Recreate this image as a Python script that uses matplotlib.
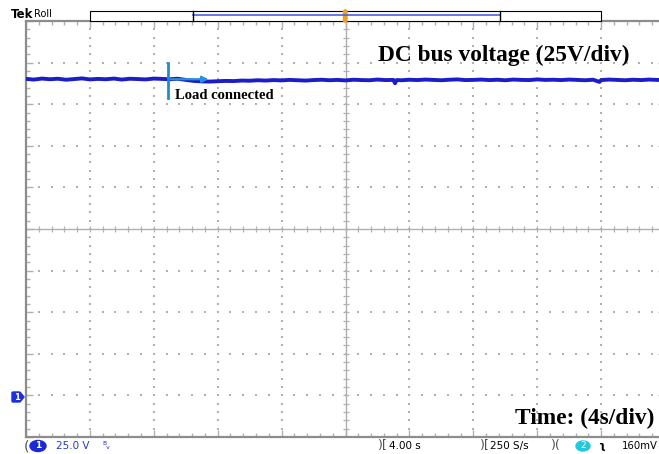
import matplotlib
matplotlib.use("Agg")
import matplotlib.pyplot as plt
import numpy as np
from matplotlib.patches import Rectangle, FancyBboxPatch, Ellipse, Polygon

# ---------------- data ----------------
time_s = [0.0, 0.5, 1.0, 1.5, 2.0, 2.5, 3.0, 3.5, 4.0, 4.5, 5.0, 5.5, 6.0, 6.5,
          7.0, 7.5, 8.0, 8.5, 9.0, 9.5, 10.0, 10.5, 11.0, 11.5, 12.0, 12.5,
          13.0, 13.5, 14.0, 14.5, 15.0, 15.5, 16.0, 16.5, 17.0, 17.5, 18.0,
          18.5, 19.0, 19.5, 20.0, 20.5, 21.0, 21.5, 22.0, 22.5, 23.0, 23.1,
          23.2, 23.5, 24.0, 24.5, 25.0, 25.5, 26.0, 26.5, 27.0, 27.5, 28.0,
          28.5, 29.0, 29.5, 30.0, 30.5, 31.0, 31.5, 32.0, 32.5, 33.0, 33.5,
          34.0, 34.5, 35.0, 35.5, 35.9, 36.0, 36.5, 37.0, 37.5, 38.0, 38.5,
          39.0, 39.5, 40.0]
voltage_v = [190.2, 189.8, 190.4, 190.0, 190.3, 189.7, 190.1, 190.5, 189.9,
             190.2, 190.0, 190.4, 189.8, 190.3, 190.1, 189.9, 190.4, 190.2,
             190.0, 190.3, 189.6, 189.0, 188.7, 188.6, 188.8, 189.0, 188.9,
             189.2, 189.1, 189.4, 189.2, 189.5, 189.3, 189.6, 189.4, 189.2,
             189.5, 189.7, 189.4, 189.6, 189.3, 189.7, 189.5, 189.4, 189.8,
             189.5, 189.6, 187.6, 189.5, 189.4, 189.7, 189.5, 189.8, 189.6,
             189.4, 189.7, 189.9, 189.5, 189.6, 189.8, 189.5, 189.7, 189.4,
             189.8, 189.6, 189.5, 189.9, 189.6, 189.7, 189.5, 189.8, 189.6,
             189.4, 189.7, 188.4, 189.5, 189.8, 189.6, 189.4, 189.7, 189.5,
             189.8, 189.6, 189.5]

load_time_s = 8.9
marker_top_v, marker_bottom_v = 199.6, 178.6
arrow_end_s = 11.6

volts_per_div = 25.0
sec_per_div = 4.0
ch1_label = "25.0 V"
timebase_label = "4.00 s"
rate_label = "250 S/s"
trig_label = "160mV"

# ---------------- figure ----------------
W, H = 659, 454
fig = plt.figure(figsize=(W / 100, H / 100), dpi=100)
fig.patch.set_facecolor("white")

def fx(px):
    return px / W

def fy(py):
    return 1 - py / H

left_px, top_px, right_px, bottom_px = 26, 21, 665, 437
ax = fig.add_axes([fx(left_px), fy(bottom_px), (right_px - left_px) / W,
                   (bottom_px - top_px) / H])
ax.set_xlim(0, 10 * sec_per_div)
ax.set_ylim(-volts_per_div, 9 * volts_per_div)
ax.set_facecolor("white")

grid_col = "#b0b0b0"
xmin, xmax = ax.get_xlim()
ymin, ymax = ax.get_ylim()
xc = (xmin + xmax) / 2
yc = (ymin + ymax) / 2
minor_x = np.arange(xmin, xmax + 1e-9, sec_per_div / 5)
minor_y = np.arange(ymin, ymax + 1e-9, volts_per_div / 5)
for k in range(1, 10):
    gx = xmin + k * sec_per_div
    if abs(gx - xc) > 1e-9:
        ax.scatter(np.full_like(minor_y, gx), minor_y, s=1.2, color=grid_col,
                   marker="s", linewidths=0, zorder=1)
    gy = ymin + k * volts_per_div
    if abs(gy - yc) > 1e-9:
        ax.scatter(minor_x, np.full_like(minor_x, gy), s=1.2, color=grid_col,
                   marker="s", linewidths=0, zorder=1)

# center crosshair with ticks
ax.axhline(yc, color=grid_col, lw=1.0, zorder=1)
ax.axvline(xc, color=grid_col, lw=1.0, zorder=1)
ax.scatter(minor_x, np.full_like(minor_x, yc), marker="|", s=18,
           color=grid_col, linewidths=0.9, zorder=1)
ax.scatter(np.full_like(minor_y, xc), minor_y, marker="_", s=18,
           color=grid_col, linewidths=0.9, zorder=1)

# frame ticks
ax.set_xticks(np.arange(xmin, xmax + 1e-9, sec_per_div))
ax.set_yticks(np.arange(ymin, ymax + 1e-9, volts_per_div))
ax.set_xticks(minor_x, minor=True)
ax.set_yticks(minor_y, minor=True)
ax.tick_params(which="both", direction="in", top=True, right=True,
               labelbottom=False, labelleft=False, colors=grid_col)
ax.tick_params(which="major", length=5, width=1)
ax.tick_params(which="minor", length=3, width=1)
for sp in ax.spines.values():
    sp.set_color("#8c8c8c")
    sp.set_linewidth(1.6)

# trace
ax.plot(time_s, voltage_v, color="#1c1cc8", lw=2.8, zorder=3)

# load connection marker
ax.plot([load_time_s, load_time_s], [marker_bottom_v, marker_top_v],
        color="#1a8fd0", lw=2, zorder=4)
ax.annotate("", xy=(arrow_end_s, voltage_v[18]), xytext=(load_time_s, voltage_v[18]),
            arrowprops=dict(arrowstyle="-|>", color="#2a8fd8", lw=1.6,
                            mutation_scale=9), zorder=4)
ax.text(load_time_s + 0.45, 184.0, "Load connected", family="Liberation Serif",
        fontweight="bold", fontsize=10.5, va="top", ha="left", color="black",
        zorder=5)

# annotations
fig.text(fx(504), fy(55), "DC bus voltage (25V/div)", family="Liberation Serif",
         fontweight="bold", fontsize=16.8, ha="center", va="center")
fig.text(fx(585), fy(418), "Time: (4s/div)", family="Liberation Serif",
         fontweight="bold", fontsize=16.8, ha="center", va="center")

# ground marker
fig.add_artist(FancyBboxPatch((fx(12), fy(402)), fx(8), 10 / H,
                              boxstyle="round,pad=0,rounding_size=0.002",
                              transform=fig.transFigure, color="#2030d8"))
fig.add_artist(Polygon([[fx(20), fy(392)], [fx(24), fy(397)], [fx(20), fy(402)]],
                       closed=True, transform=fig.transFigure, color="#2030d8"))
fig.text(fx(16.5), fy(397.5), "1", color="white", fontsize=6, fontweight="bold",
         ha="center", va="center")

# top status bar
fig.text(fx(11), fy(15), "Tek", fontsize=8.5, fontweight="bold", ha="left",
         va="center")
fig.text(fx(34), fy(14), "Roll", fontsize=7, ha="left", va="center")
fig.add_artist(Rectangle((fx(90), fy(21)), fx(511), 10 / H, transform=fig.transFigure,
                         facecolor="white", edgecolor="black", lw=0.8))
fig.add_artist(plt.Line2D([fx(193), fx(500)], [fy(15), fy(15)],
                          transform=fig.transFigure, color="#5060e0", lw=1.2))
for bx in (193, 500):
    fig.add_artist(plt.Line2D([fx(bx), fx(bx)], [fy(11), fy(21)],
                              transform=fig.transFigure, color="black", lw=1))
fig.add_artist(FancyBboxPatch((fx(343.5), fy(22)), fx(3.5), 12 / H,
                              boxstyle="round,pad=0,rounding_size=0.003",
                              transform=fig.transFigure, color="#f0a020"))

# bottom status bar
by = fy(446)
fig.text(fx(24), by, "(", fontsize=10, color="#505050", ha="left", va="center")
fig.add_artist(Ellipse((fx(38), by), fx(16), 11 / H, transform=fig.transFigure,
                       color="#1a28d8"))
fig.text(fx(38), by, "1", fontsize=6.5, color="white", fontweight="bold",
         ha="center", va="center")
fig.text(fx(56), by, ch1_label, fontsize=7.5, color="#2838c8", ha="left",
         va="center")
fig.text(fx(102), by, "ᴮᵥ", fontsize=7, color="#2838c8", ha="left", va="center")
fig.text(fx(378), by, ")[", fontsize=9, color="#505050", ha="left", va="center")
fig.text(fx(389), by, timebase_label, fontsize=7.5, color="black", ha="left",
         va="center")
fig.text(fx(480), by, ")[", fontsize=9, color="#505050", ha="left", va="center")
fig.text(fx(490), by, rate_label, fontsize=7.5, color="black", ha="left",
         va="center")
fig.text(fx(551), by, ")(", fontsize=9, color="#505050", ha="left", va="center")
fig.add_artist(Ellipse((fx(583), by), fx(14), 10 / H, transform=fig.transFigure,
                       color="#20c8e0"))
fig.text(fx(583), by, "2", fontsize=6.5, color="white", ha="center", va="center")
fig.text(fx(598), by, "\u0285", fontsize=8, color="black", fontweight="bold",
         ha="left", va="center")
fig.text(fx(658), by, trig_label, fontsize=7.3, color="black", ha="right",
         va="center")

fig.savefig("out.png", dpi=100)
